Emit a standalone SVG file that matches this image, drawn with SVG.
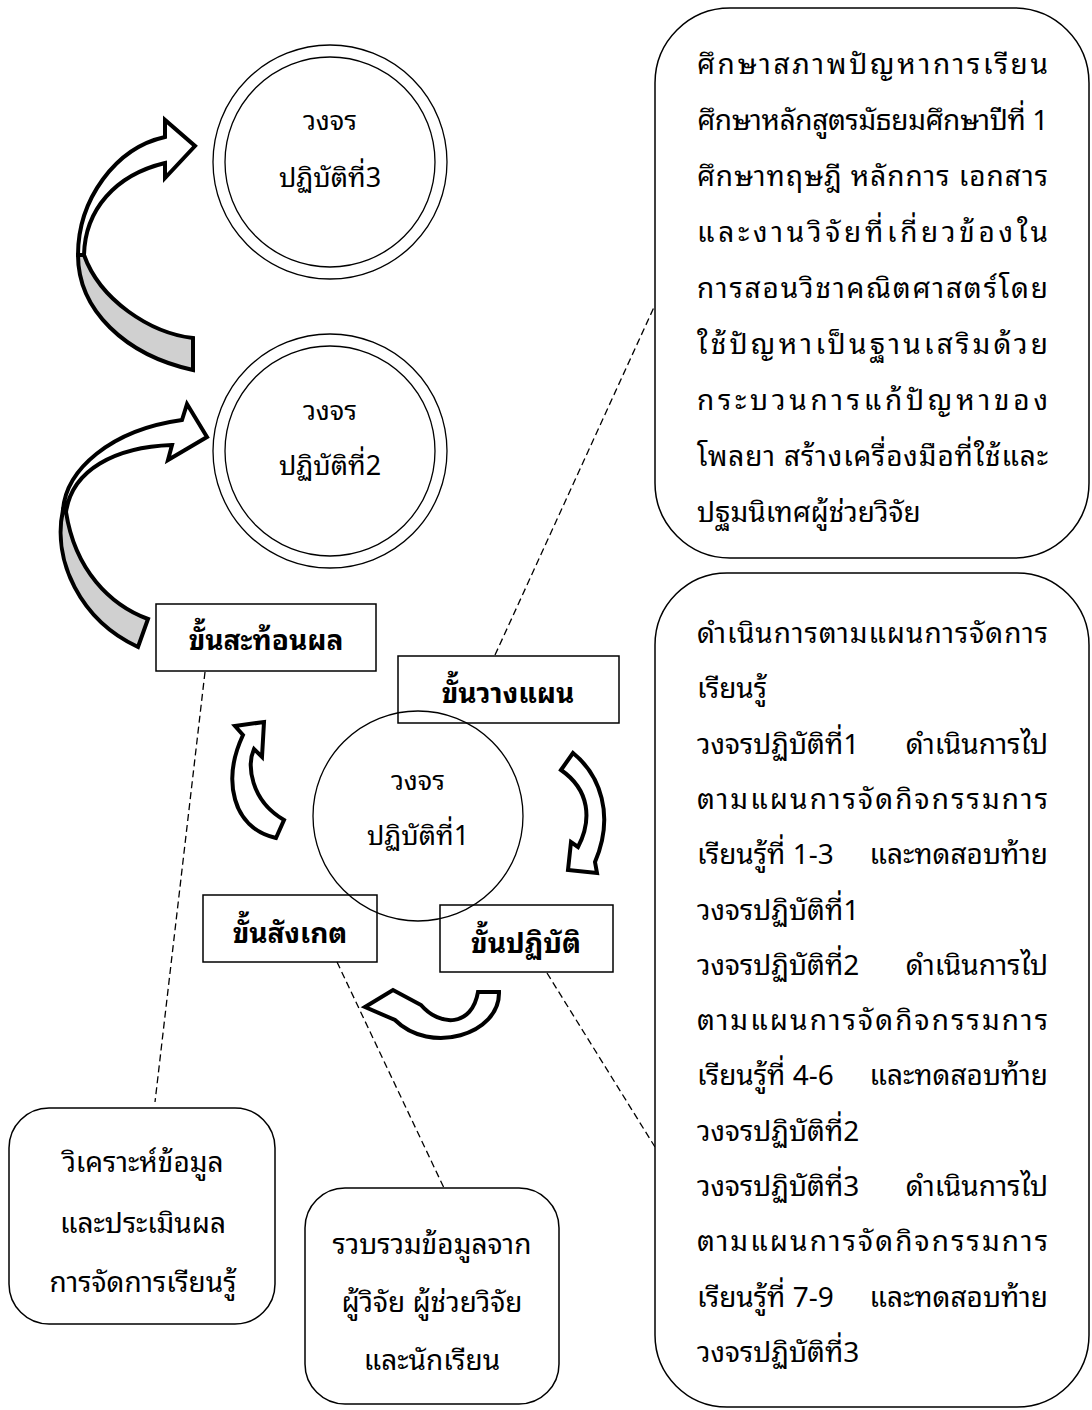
<svg xmlns="http://www.w3.org/2000/svg" width="1092" height="1410" viewBox="0 0 1092 1410">
<style>
.t{font-family:"Noto Sans Thai Looped","Waree","Loma","Noto Sans Thai","Leelawadee UI",Tahoma,"DejaVu Sans",sans-serif;font-size:28px;fill:#000}
.cc{font-size:27px}
.c{text-anchor:middle}
.e{text-anchor:end}
.lbl{font-family:"Noto Sans Thai Looped","Waree","Loma","Noto Sans Thai","Leelawadee UI",Tahoma,"DejaVu Sans",sans-serif;font-size:28px;font-weight:bold;text-anchor:middle;fill:#000}
.ln{fill:none;stroke:#000;stroke-width:1.3}
.bx{fill:#fff;stroke:#000;stroke-width:1.5}
.lb{fill:none;stroke:#000;stroke-width:1.5}
.dash{fill:none;stroke:#000;stroke-width:1.3;stroke-dasharray:7 4}
.arr{fill:#fff;stroke:#000;stroke-width:4;stroke-linejoin:miter}
.back{fill:#d0d0d0;stroke:#000;stroke-width:4;stroke-linejoin:miter}
</style>
<rect width="1092" height="1410" fill="#fff"/>
<g id="connectors">
<line class="dash" x1="495" y1="655" x2="655" y2="305"/>
<line class="dash" x1="205" y1="672" x2="155" y2="1102"/>
<line class="dash" x1="337" y1="962" x2="444" y2="1188"/>
<line class="dash" x1="547" y1="973" x2="655" y2="1147"/>
</g>
<g id="cycle3">
<circle class="ln" cx="330" cy="162" r="117"/>
<circle class="ln" cx="330" cy="162" r="105"/>
<text class="t cc c" x="330" y="130">วงจร</text>
<text class="t cc c" x="330" y="187">ปฏิบัติที่3</text>
</g>
<g id="cycle2">
<circle class="ln" cx="330" cy="451" r="117"/>
<circle class="ln" cx="330" cy="451" r="105"/>
<text class="t cc c" x="330" y="420">วงจร</text>
<text class="t cc c" x="330" y="475">ปฏิบัติที่2</text>
</g>
<g id="cycle1">
<circle class="ln" cx="418" cy="816" r="105"/>
<text class="t cc c" x="418" y="790">วงจร</text>
<text class="t cc c" x="418" y="845">ปฏิบัติที่1</text>
</g>
<g id="arrow-to-cycle3">
<path class="back" d="M78,255 C78,310 125,355 193,370 L193,338 C150,333 100,300 84,255 Z"/>
<path class="arr" d="M78,255 C78,200 115,148 165,137 L165,120 L195,146 L165,178 L165,163 C115,175 85,210 84,255 Z"/>
</g>
<g id="arrow-to-cycle2">
<path class="back" d="M63,510 C52,560 80,620 138,647 L148,619 C110,605 75,570 66,512 Z"/>
<path class="arr" d="M63,510 C66,470 110,430 182,420 L187,404 L207,437 L168,460 L172,445 C115,447 72,470 66,512 Z"/>
</g>
<g id="arrow-reflect">
<path class="arr" d="M243,735 L235,726 L264,722 L262,757 L254,749 C247,765 250,800 284,820 L276,838 C232,828 222,780 243,735 Z"/>
</g>
<g id="arrow-act">
<path class="arr" d="M561,770 L573,753 C600,775 615,815 595,862 L597,873 L568,870 L571,842 L578,847 C592,820 590,790 561,770 Z"/>
</g>
<g id="arrow-observe">
<path class="arr" d="M365,1007 L393,990 L421,1005 C440,1027 472,1027 478,992 L499,992 C500,1035 430,1055 395,1020 Z"/>
</g>
<g id="step-reflect">
<rect class="lb" x="156" y="604" width="220" height="67"/>
<text class="lbl" x="266" y="650">ขั้นสะท้อนผล</text>
</g>
<g id="step-plan">
<rect class="lb" x="398" y="656" width="221" height="67"/>
<text class="lbl" x="508" y="703">ขั้นวางแผน</text>
</g>
<g id="step-observe">
<rect class="lb" x="203" y="895" width="174" height="67"/>
<text class="lbl" x="290" y="943">ขั้นสังเกต</text>
</g>
<g id="step-act">
<rect class="lb" x="440" y="905" width="173" height="67"/>
<text class="lbl" x="526" y="953">ขั้นปฏิบัติ</text>
</g>
<g id="plan-detail">
<rect class="bx" x="655" y="8" width="434" height="550" rx="75" ry="75"/>
<text class="t" x="697" y="74" textLength="351" lengthAdjust="spacing">ศึกษาสภาพปัญหาการเรียน</text>
<text class="t" x="697" y="130" textLength="351" lengthAdjust="spacing">ศึกษาหลักสูตรมัธยมศึกษาปีที่ 1</text>
<text class="t" x="697" y="186" textLength="351" lengthAdjust="spacing">ศึกษาทฤษฎี หลักการ เอกสาร</text>
<text class="t" x="697" y="242" textLength="351" lengthAdjust="spacing">และงานวิจัยที่เกี่ยวข้องใน</text>
<text class="t" x="697" y="298" textLength="351" lengthAdjust="spacing">การสอนวิชาคณิตศาสตร์โดย</text>
<text class="t" x="697" y="354" textLength="351" lengthAdjust="spacing">ใช้ปัญหาเป็นฐานเสริมด้วย</text>
<text class="t" x="697" y="410" textLength="351" lengthAdjust="spacing">กระบวนการแก้ปัญหาของ</text>
<text class="t" x="697" y="466" textLength="351" lengthAdjust="spacing">โพลยา สร้างเครื่องมือที่ใช้และ</text>
<text class="t" x="697" y="522">ปฐมนิเทศผู้ช่วยวิจัย</text>
</g>
<g id="act-detail">
<rect class="bx" x="655" y="573" width="434" height="834" rx="72" ry="72"/>
<text class="t" x="697" y="643" textLength="351" lengthAdjust="spacing">ดำเนินการตามแผนการจัดการ</text>
<text class="t" x="697" y="698">เรียนรู้</text>
<text class="t" y="754"><tspan x="697">วงจรปฏิบัติที่1</tspan><tspan class="e" x="1048">ดำเนินการไป</tspan></text>
<text class="t" x="697" y="809" textLength="351" lengthAdjust="spacing">ตามแผนการจัดกิจกรรมการ</text>
<text class="t" y="864"><tspan x="697">เรียนรู้ที่ 1-3</tspan><tspan class="e" x="1048">และทดสอบท้าย</tspan></text>
<text class="t" x="697" y="920">วงจรปฏิบัติที่1</text>
<text class="t" y="975"><tspan x="697">วงจรปฏิบัติที่2</tspan><tspan class="e" x="1048">ดำเนินการไป</tspan></text>
<text class="t" x="697" y="1030" textLength="351" lengthAdjust="spacing">ตามแผนการจัดกิจกรรมการ</text>
<text class="t" y="1085"><tspan x="697">เรียนรู้ที่ 4-6</tspan><tspan class="e" x="1048">และทดสอบท้าย</tspan></text>
<text class="t" x="697" y="1141">วงจรปฏิบัติที่2</text>
<text class="t" y="1196"><tspan x="697">วงจรปฏิบัติที่3</tspan><tspan class="e" x="1048">ดำเนินการไป</tspan></text>
<text class="t" x="697" y="1251" textLength="351" lengthAdjust="spacing">ตามแผนการจัดกิจกรรมการ</text>
<text class="t" y="1307"><tspan x="697">เรียนรู้ที่ 7-9</tspan><tspan class="e" x="1048">และทดสอบท้าย</tspan></text>
<text class="t" x="697" y="1362">วงจรปฏิบัติที่3</text>
</g>
<g id="reflect-detail">
<rect class="bx" x="9" y="1108" width="266" height="216" rx="40" ry="40"/>
<text class="t c" x="143" y="1172">วิเคราะห์ข้อมูล</text>
<text class="t c" x="143" y="1233">และประเมินผล</text>
<text class="t c" x="143" y="1292">การจัดการเรียนรู้</text>
</g>
<g id="observe-detail">
<rect class="bx" x="305" y="1188" width="254" height="216" rx="40" ry="40"/>
<text class="t c" x="432" y="1254">รวบรวมข้อมูลจาก</text>
<text class="t c" x="432" y="1312">ผู้วิจัย ผู้ช่วยวิจัย</text>
<text class="t c" x="432" y="1370">และนักเรียน</text>
</g>
</svg>
